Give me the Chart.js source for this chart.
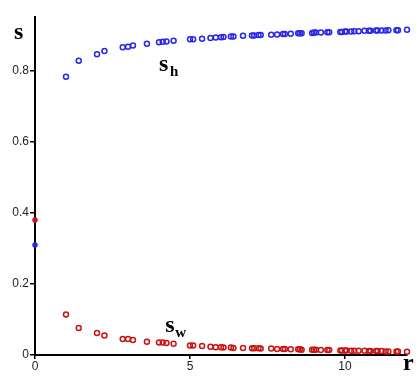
<!DOCTYPE html>
<html>
<head>
<meta charset="utf-8">
<script src="https://cdn.jsdelivr.net/npm/chart.js@4"></script>
<style>
  html, body { margin: 0; padding: 0; background: #fff; }
  #wrap { width: 420px; height: 378px; }
</style>
</head>
<body>
<div id="wrap"><canvas id="sChart" width="420" height="378"></canvas></div>
<script>
// r values (distance)
const rValues = [1, 1.41, 2, 2.24, 2.83, 3, 3.16, 3.61, 4, 4.12,
    4.24, 4.47, 5, 5.1, 5.39, 5.66, 5.83, 6, 6.08, 6.32,
    6.4, 6.71, 7, 7.07, 7.21, 7.28, 7.62, 7.81, 8, 8.06,
    8.25, 8.49, 8.54, 8.6, 8.94, 9, 9.06, 9.22, 9.43, 9.49,
    9.85, 9.9, 10, 10.05, 10.2, 10.3, 10.44, 10.63, 10.77, 10.82,
    11, 11.05, 11.18, 11.31, 11.4, 11.66, 11.71, 12];

const sH = [0.784, 0.829, 0.847, 0.856, 0.867, 0.868, 0.872, 0.877, 0.881, 0.882,
    0.883, 0.885, 0.889, 0.889, 0.891, 0.893, 0.894, 0.895, 0.896, 0.897,
    0.897, 0.899, 0.900, 0.900, 0.901, 0.901, 0.902, 0.903, 0.904, 0.904,
    0.905, 0.906, 0.906, 0.906, 0.907, 0.908, 0.908, 0.908, 0.909, 0.909,
    0.910, 0.910, 0.911, 0.911, 0.911, 0.912, 0.912, 0.913, 0.913, 0.913,
    0.914, 0.914, 0.914, 0.914, 0.915, 0.915, 0.915, 0.916];

const sW = [0.114, 0.076, 0.062, 0.055, 0.045, 0.045, 0.042, 0.037, 0.035, 0.035,
    0.034, 0.032, 0.027, 0.027, 0.025, 0.023, 0.022, 0.022, 0.021, 0.021,
    0.020, 0.020, 0.019, 0.019, 0.019, 0.018, 0.018, 0.017, 0.017, 0.017,
    0.016, 0.016, 0.016, 0.015, 0.015, 0.015, 0.015, 0.014, 0.014, 0.014,
    0.013, 0.013, 0.013, 0.013, 0.012, 0.012, 0.012, 0.012, 0.011, 0.011,
    0.011, 0.011, 0.011, 0.010, 0.010, 0.010, 0.010, 0.009];

// values at r = 0 (filled dots on the y axis)
const sH0 = 0.31;
const sW0 = 0.38;

const xTicks = [0, 5, 10];
const yTicks = [0, 0.2, 0.4, 0.6, 0.8];

const blue = 'rgb(40, 40, 230)';
const red = 'rgb(200, 20, 20)';

document.addEventListener("DOMContentLoaded", function() {
    const toPoints = (ys, y0) => [{x: 0, y: y0}].concat(rValues.map((r, i) => ({x: r, y: ys[i]})));

    const makeSet = (label, ys, y0, color) => ({
        label: label,
        data: toPoints(ys, y0),
        borderColor: color,
        pointBorderColor: color,
        pointBackgroundColor: ctx => (ctx.raw && ctx.raw.x === 0) ? color : 'rgba(255,255,255,0)',
        pointRadius: ctx => (ctx.raw && ctx.raw.x === 0) ? 2 : 2.5,
        pointBorderWidth: 1.5,
        showLine: false,
        clip: false
    });

    // text labels: axis names and series names
    const labelPlugin = {
        id: 'labels',
        afterDraw(chart) {
            const ctx = chart.ctx;
            const x = chart.scales.x, y = chart.scales.y;
            ctx.save();
            ctx.fillStyle = '#000';
            ctx.textBaseline = 'alphabetic';
            ctx.textAlign = 'left';
            ctx.font = 'bold 24px "Liberation Serif"';
            ctx.fillText('s', 14, 39);
            ctx.fillText('r', 403, 370);

            let px = x.getPixelForValue(4.0), py = y.getPixelForValue(0.8);
            ctx.fillText('s', px, py);
            ctx.font = 'bold 15px "Liberation Serif"';
            ctx.fillText('h', px + 11, py + 5);

            ctx.font = 'bold 24px "Liberation Serif"';
            px = x.getPixelForValue(4.2); py = y.getPixelForValue(0.065);
            ctx.fillText('s', px, py);
            ctx.font = 'bold 15px "Liberation Serif"';
            ctx.fillText('w', px + 10, py + 5);
            ctx.restore();
        }
    };

    new Chart(document.getElementById('sChart').getContext('2d'), {
        type: 'scatter',
        data: {
            datasets: [makeSet('s_h', sH, sH0, blue), makeSet('s_w', sW, sW0, red)]
        },
        options: {
            responsive: false,
            animation: false,
            layout: { padding: { top: 17, right: 13, left: 0, bottom: 0 } },
            plugins: { legend: { display: false }, tooltip: { enabled: false } },
            scales: {
                x: {
                    type: 'linear', min: 0, max: 12,
                    afterBuildTicks: s => { s.ticks = xTicks.map(v => ({value: v})); },
                    afterFit: s => { s.height = 23; },
                    border: { color: '#000', width: 2 },
                    grid: { drawOnChartArea: false, tickLength: 4, color: '#000', lineWidth: 1.5 },
                    ticks: { color: '#222', font: { family: 'Liberation Sans', size: 12 }, padding: 0, maxRotation: 0 }
                },
                y: {
                    type: 'linear', min: 0, max: 0.952,
                    afterBuildTicks: s => { s.ticks = yTicks.map(v => ({value: v})); },
                    afterFit: s => { s.width = 35; },
                    border: { color: '#000', width: 2 },
                    grid: { drawOnChartArea: false, tickLength: 5, color: '#000', lineWidth: 1.5 },
                    ticks: { color: '#222', font: { family: 'Liberation Sans', size: 12 }, padding: 1 }
                }
            }
        },
        plugins: [labelPlugin]
    });
});
</script>
</body>
</html>
